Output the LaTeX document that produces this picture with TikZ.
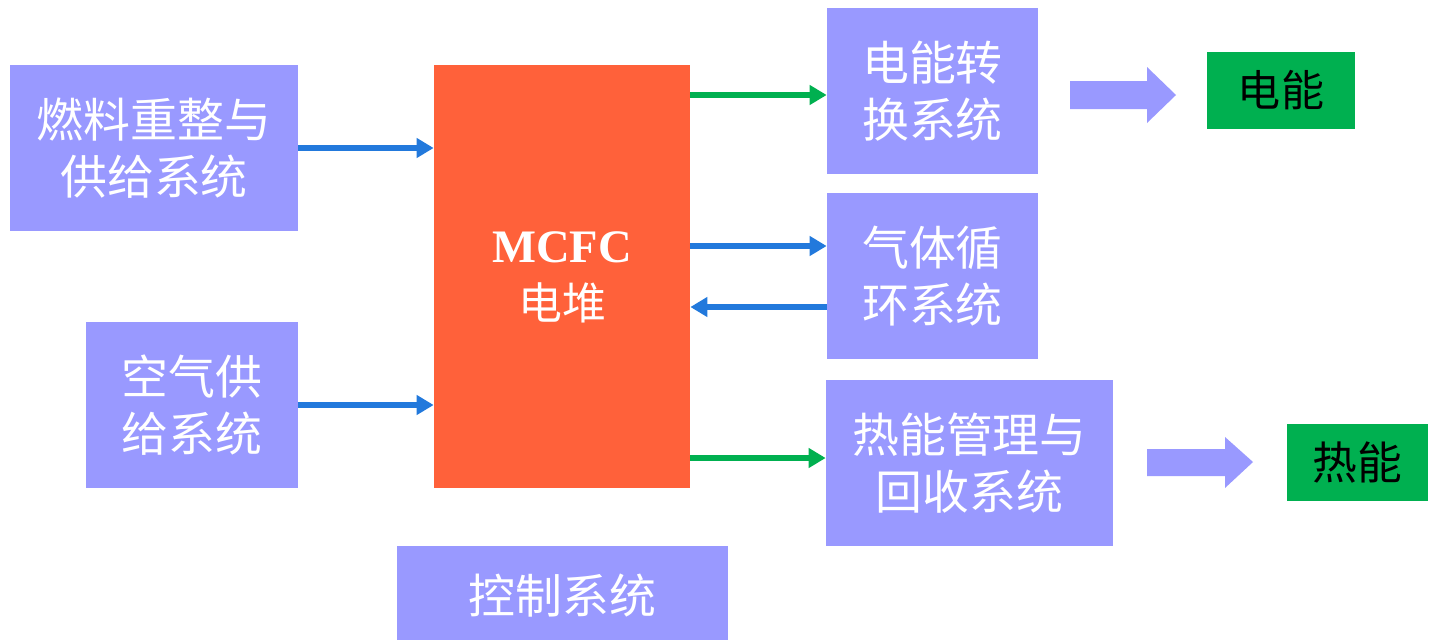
\documentclass[tikz,border=0pt]{standalone}
\usepackage{fontspec}
\setmainfont{Liberation Serif}
\newfontfamily\cjk{Noto Sans CJK SC}
\usetikzlibrary{arrows.meta}
\definecolor{boxpurple}{HTML}{9999FF}
\definecolor{stackorange}{HTML}{FF613A}
\definecolor{outgreen}{HTML}{00B050}
\definecolor{flowblue}{HTML}{2279DC}
\tikzset{
  sysbox/.style={fill=boxpurple, draw=none, inner sep=0pt, align=center, text=white,
    font=\cjk\fontsize{26.7}{32.5}\selectfont},
  outbox/.style={fill=outgreen, draw=none, inner sep=0pt, align=center, text=black,
    font=\cjk\fontsize{24.5}{30}\selectfont},
  flow/.style={line width=3.4pt, -{Triangle[length=0.34cm,width=0.38cm]}},
  bluearr/.style={flow, draw=flowblue},
  greenarr/.style={flow, draw=outgreen},
  blockarr/.style={fill=boxpurple, draw=none}
}
\begin{document}
\begin{tikzpicture}[x=0.02cm,y=-0.02cm]
\useasboundingbox (0,0) rectangle (1429,639);
\node[sysbox, minimum width=288*0.02cm, minimum height=166*0.02cm] (fuel) at (154,148) {燃料重整与\\供给系统};
\node[sysbox, minimum width=212*0.02cm, minimum height=166*0.02cm] (air) at (192,405) {空气供\\给系统};
\node[fill=stackorange, inner sep=0pt, minimum width=256*0.02cm, minimum height=423*0.02cm] (mcfc) at (562,276.5) {};
\node[text=white, align=center, font=\fontsize{26.5}{32.5}\selectfont\bfseries] (mcfclabel) at (562,277) {MCFC\\{\cjk\mdseries\fontsize{25}{30}\selectfont 电堆}};
\node[sysbox, minimum width=331*0.02cm, minimum height=100*0.02cm] (ctrl) at (562.5,596) {控制系统};
\node[sysbox, minimum width=211*0.02cm, minimum height=166*0.02cm] (econv) at (932.5,91) {电能转\\换系统};
\node[sysbox, minimum width=211*0.02cm, minimum height=166*0.02cm] (gas) at (932.5,276) {气体循\\环系统};
\node[sysbox, minimum width=287*0.02cm, minimum height=166*0.02cm] (heat) at (969.5,463) {热能管理与\\回收系统};
\node[outbox, minimum width=148*0.02cm, minimum height=77*0.02cm] (elec) at (1281,90.5) {电能};
\node[outbox, minimum width=141*0.02cm, minimum height=77*0.02cm, font=\cjk\fontsize{25.5}{30}\selectfont] (heatout) at (1357.5,462.5) {热能};
% connectors
\draw[bluearr] (fuel.east) -- (fuel.east -| mcfc.west);
\draw[bluearr] (air.east) -- (air.east -| mcfc.west);
\draw[greenarr] (mcfc.east |- 0,95) -- (econv.west |- 0,95);
\draw[bluearr] (mcfc.east |- 0,246) -- (gas.west |- 0,246);
\draw[bluearr] (gas.west |- 0,307) -- (mcfc.east |- 0,307);
\draw[greenarr] (mcfc.east |- 0,458) -- (heat.west |- 0,458);
% block arrows
\fill[blockarr] (1070,81) -- (1147,81) -- (1147,67) -- (1176,95) -- (1147,123) -- (1147,109) -- (1070,109) -- cycle;
\fill[blockarr] (1147,449) -- (1225,449) -- (1225,437) -- (1253,462) -- (1225,488) -- (1225,476) -- (1147,476) -- cycle;
\end{tikzpicture}
\end{document}
